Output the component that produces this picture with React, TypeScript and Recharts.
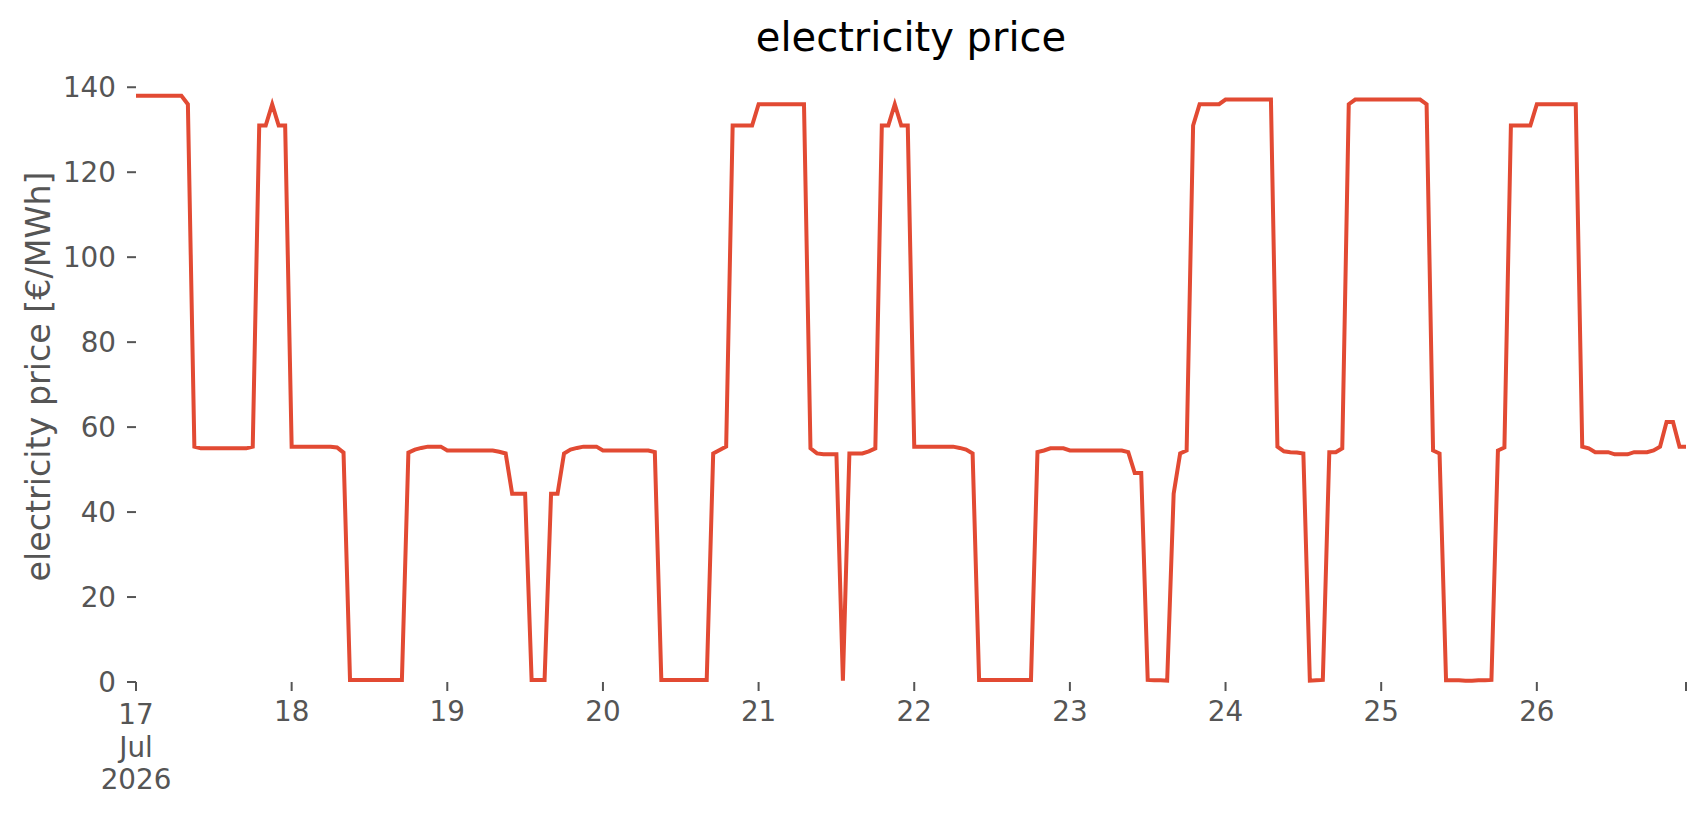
import { LineChart, Line, XAxis, YAxis } from 'recharts'

// hourly day-ahead price, 17 Jul 00:00 .. 26 Jul 23:00 (€/MWh)
const day17 = [138, 138, 138, 138, 138, 138, 138, 138, 136, 55.4, 55, 55, 55, 55, 55, 55, 55, 55, 55.4, 131, 131, 136, 131, 131]
const day18 = [55.4, 55.4, 55.4, 55.4, 55.4, 55.4, 55.4, 55.2, 54, 0.5, 0.5, 0.5, 0.5, 0.5, 0.5, 0.5, 0.5, 0.5, 54, 54.7, 55.1, 55.4, 55.4, 55.4]
const day19 = [54.5, 54.5, 54.5, 54.5, 54.5, 54.5, 54.5, 54.5, 54.2, 53.8, 44.3, 44.3, 44.3, 0.5, 0.5, 0.5, 44.3, 44.3, 53.8, 54.7, 55.1, 55.4, 55.4, 55.4]
const day20 = [54.5, 54.5, 54.5, 54.5, 54.5, 54.5, 54.5, 54.5, 54.1, 0.5, 0.5, 0.5, 0.5, 0.5, 0.5, 0.5, 0.5, 53.8, 54.6, 55.4, 131, 131, 131, 131]
const day21 = [136, 136, 136, 136, 136, 136, 136, 136, 55, 53.8, 53.6, 53.6, 53.6, 0.3, 53.8, 53.8, 53.8, 54.3, 55, 131, 131, 136, 131, 131]
const day22 = [55.4, 55.4, 55.4, 55.4, 55.4, 55.4, 55.4, 55.1, 54.7, 53.8, 0.5, 0.5, 0.5, 0.5, 0.5, 0.5, 0.5, 0.5, 0.5, 54.1, 54.5, 55, 55, 55]
const day23 = [54.5, 54.5, 54.5, 54.5, 54.5, 54.5, 54.5, 54.5, 54.5, 54.1, 49.2, 49.2, 0.5, 0.4, 0.4, 0.3, 44.3, 53.8, 54.5, 131, 136, 136, 136, 136]
const day24 = [137.1, 137.1, 137.1, 137.1, 137.1, 137.1, 137.1, 137.1, 55.4, 54.3, 54.1, 54, 53.8, 0.3, 0.4, 0.5, 54.1, 54.1, 55, 136, 137.1, 137.1, 137.1, 137.1]
const day25 = [137.1, 137.1, 137.1, 137.1, 137.1, 137.1, 137.1, 136, 54.5, 53.8, 0.4, 0.4, 0.4, 0.3, 0.3, 0.4, 0.4, 0.5, 54.5, 55.2, 131, 131, 131, 131]
const day26 = [136, 136, 136, 136, 136, 136, 136, 55.4, 55, 54.1, 54.1, 54.1, 53.6, 53.6, 53.6, 54.1, 54.1, 54.1, 54.5, 55.4, 61.2, 61.2, 55.4, 55.4]

const tickHours = [0, 24, 48, 72, 96, 120, 144, 168, 192, 216, 239]
const tickLabels = ['17\nJul\n2026', '18', '19', '20', '21', '22', '23', '24', '25', '26', '']
const yTicks = [0, 20, 40, 60, 80, 100, 120, 140]

const data = [day17, day18, day19, day20, day21, day22, day23, day24, day25, day26]
  .flat()
  .map((price, h) => ({ h, price }))

const FONT = '"DejaVu Sans", sans-serif'
const GREY = '#555555'

function DayTick({ x, y, payload }: any) {
  const idx = tickHours.indexOf(payload.value)
  const lines = (idx >= 0 ? tickLabels[idx] : '').split('\n')
  return (
    <text x={x} y={y} textAnchor="middle" fill={GREY} fontSize={27.8} fontFamily={FONT}>
      {lines.map((l, i) => (
        <tspan key={i} x={x} dy={i === 0 ? (lines.length > 1 ? 23 : 19.7) : 32.5}>{l}</tspan>
      ))}
    </text>
  )
}

export default function App() {
  return (
    <div style={{ position: 'absolute', left: 0, top: 0, width: 1706, height: 815, background: '#fff' }}>
      <LineChart width={1706} height={815} data={data} margin={{ top: 66, right: 20, bottom: 0, left: 0 }}>
        <XAxis
          dataKey="h"
          type="number"
          domain={[0, 239]}
          ticks={tickHours}
          interval={0}
          axisLine={false}
          tickLine={{ stroke: GREY, strokeWidth: 2 }}
          tickSize={9}
          tickMargin={10}
          height={133}
          tick={<DayTick />}
        />
        <YAxis
          type="number"
          domain={[0, 145]}
          ticks={yTicks}
          interval={0}
          axisLine={false}
          tickLine={{ stroke: GREY, strokeWidth: 2 }}
          tickSize={9}
          tickMargin={11}
          width={136}
          tick={{ fill: GREY, fontSize: 27.8, fontFamily: FONT }}
        />
        <Line
          type="linear"
          dataKey="price"
          stroke="#E24A33"
          strokeWidth={4}
          dot={false}
          activeDot={false}
          isAnimationActive={false}
        />
      </LineChart>
      <svg width={1706} height={815} style={{ position: 'absolute', left: 0, top: 0, pointerEvents: 'none' }}>
        <text x={911} y={51} textAnchor="middle" fontSize={40} fontFamily={FONT} fill="#000">
          electricity price
        </text>
        <text
          x={50}
          y={376.5}
          transform="rotate(-90 50 376.5)"
          textAnchor="middle"
          fontSize={33.3}
          fontFamily={FONT}
          fill={GREY}
        >
          electricity price [€/MWh]
        </text>
      </svg>
    </div>
  )
}
